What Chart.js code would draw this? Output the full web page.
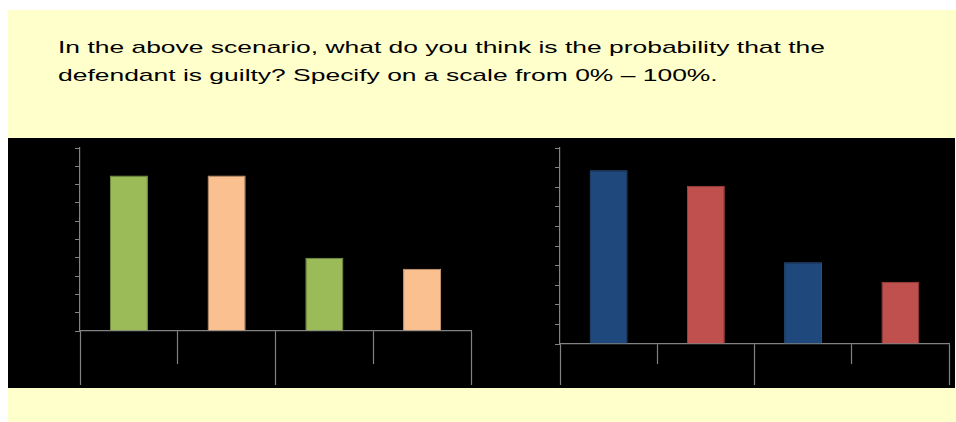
<!DOCTYPE html>
<html>
<head>
<meta charset="utf-8">
<script src="https://cdn.jsdelivr.net/npm/chart.js@4"></script>
<style>
  body { margin: 0; background: #fff; width: 956px; height: 422px; overflow: hidden; position: relative; }
  #slide { position: absolute; left: 8px; top: 10px; width: 948px; height: 412px; background: #ffffcc; }
  #question { position: absolute; left: 58px; top: 34px; font-family: "Liberation Sans", Arial, sans-serif;
    font-size: 17px; line-height: 28px; color: #000; white-space: nowrap; transform-origin: 0 0; }
  #panel { position: absolute; left: 8px; top: 138px; width: 947px; height: 250px; background: #000; }
  .box { position: absolute; top: 138px; height: 250px; }
</style>
</head>
<body>
<div id="slide"></div>
<div id="question"><span id="line1">In the above scenario, what do you think is the probability that the</span><br>defendant is guilty? Specify on a scale from 0% &ndash; 100%.</div>
<div id="panel"></div>
<div class="box" style="left:8px;width:470px"><canvas id="chartLeft"></canvas></div>
<div class="box" style="left:478px;width:477px"><canvas id="chartRight"></canvas></div>
<script>
// category names are not printed in the picture (black on black)
const leftCategories = ['Group 1 A', 'Group 1 B', 'Group 2 A', 'Group 2 B'];
const leftGroups = ['Group 1', 'Group 2'];
const leftValues = [85, 85, 40, 34];
const leftColors = ['#9bbb59', '#fac090', '#9bbb59', '#fac090'];
const leftBorders = ['#7d9a46', '#d8a37a', '#7d9a46', '#d8a37a'];

const rightCategories = ['Group 1 A', 'Group 1 B', 'Group 2 A', 'Group 2 B'];
const rightGroups = ['Group 1', 'Group 2'];
const rightValues = [88.6, 80.7, 41.7, 31.7];
const rightColors = ['#1f497d', '#c0504d', '#1f497d', '#c0504d'];
const rightBorders = ['#2d5a8e', '#a8443f', '#2d5a8e', '#a8443f'];

const axisGrey = '#828282';

// the question text in the picture is stretched sideways: first line runs to x=825
const q = document.getElementById('question');
const w = document.getElementById('line1').getBoundingClientRect().width;
q.style.transform = 'scaleX(' + (767 / w) + ')';

function makeConfig(cats, groups, values, colors, borders, innerTick, pad) {
  return {
    type: 'bar',
    data: {
      labels: cats,
      datasets: [{
        data: values,
        backgroundColor: colors,
        borderColor: borders,
        borderWidth: 1,
        categoryPercentage: 1,
        barPercentage: 0.39
      }]
    },
    options: {
      responsive: true,
      maintainAspectRatio: false,
      animation: false,
      layout: { padding: pad },
      plugins: { legend: { display: false }, tooltip: { enabled: false } },
      scales: {
        x: {
          offset: true,
          ticks: { display: false },
          grid: { offset: true, drawOnChartArea: false, tickLength: innerTick, color: axisGrey, tickWidth: 1.2 },
          border: { color: axisGrey, width: 1.2 }
        },
        x2: {
          type: 'category',
          position: 'bottom',
          labels: groups,
          offset: true,
          ticks: { display: false },
          grid: { offset: true, drawOnChartArea: false, tickLength: 21, color: axisGrey, tickWidth: 1.2 },
          border: { display: false }
        },
        y: {
          min: 0,
          max: 100,
          ticks: { display: false, stepSize: 10 },
          grid: { drawOnChartArea: false, tickLength: 5, color: axisGrey },
          border: { color: axisGrey, width: 1.2 }
        }
      }
    }
  };
}

new Chart(document.getElementById('chartLeft'),
  makeConfig(leftCategories, leftGroups, leftValues, leftColors, leftBorders, 33,
    { left: 67, top: 10, right: 7, bottom: 3 }));
new Chart(document.getElementById('chartRight'),
  makeConfig(rightCategories, rightGroups, rightValues, rightColors, rightBorders, 20,
    { left: 77, top: 10, right: 6, bottom: 3 }));
</script>
</body>
</html>
